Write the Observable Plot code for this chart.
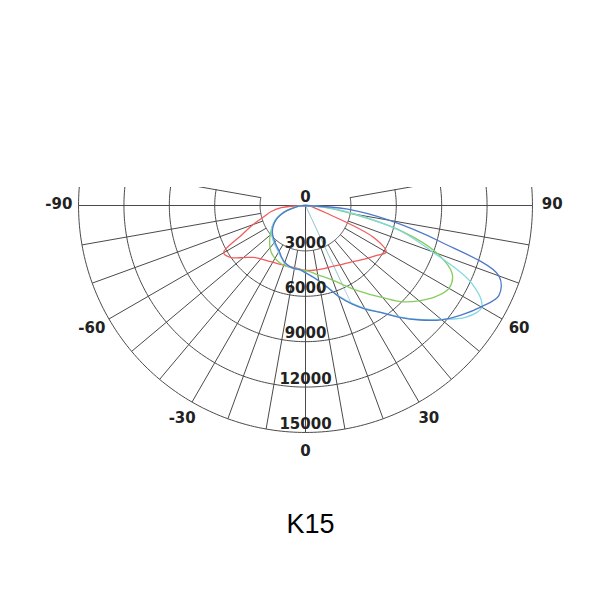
<!DOCTYPE html>
<html>
<head>
<meta charset="utf-8">
<script src="https://cdn.jsdelivr.net/npm/d3@7"></script>
<script src="https://cdn.jsdelivr.net/npm/@observablehq/plot@0.6"></script>
<style>
  body { margin: 0; background: #fff; }
</style>
</head>
<body>
<div id="chart"></div>
<script>
// gamma angles (deg), left side negative
const angles = [-90, -85, -80, -75, -70, -65, -60, -55, -50, -45, -40, -35, -30, -25, -20, -15, -10, -5, 0,
  5, 10, 15, 20, 25, 30, 35, 40, 45, 50, 55, 60, 65, 70, 75, 80, 85, 90];

// intensity per curve (cd)
const redValues = [0, 1600, 2300, 2850, 3700, 4700, 6250, 6000, 5350, 4850, 4600, 4450, 4330, 4250, 4200, 4180, 4170, 4220, 4280,
  4310, 4320, 4340, 4360, 4420, 4530, 4660, 4850, 5100, 5400, 5750, 6150, 4900, 1500, 650, 380, 180, 0];
const greenValues = [0, 400, 800, 1300, 1700, 2100, 2450, 2750, 3050, 3350, 3650, 3880, 4030, 4130, 4200, 4220, 4210, 4230, 4300,
  4420, 4650, 4900, 5250, 5750, 6400, 7100, 7950, 9000, 9800, 10500, 10950, 10700, 9280, 6650, 3100, 1100, 0];
const cyanValues = [0, 400, 780, 1280, 1780, 2180, 2480, 2730, 2930, 3080, 3230, 3380, 3550, 3800, 4050, 4180, 4260, 4270, 4430,
  4680, 5080, 5580, 6350, 7100, 7850, 8600, 9600, 10650, 11700, 12900, 13450, 12100, 8900, 6500, 3400, 1300, 0];
const blueValues = [0, 350, 700, 1200, 1700, 2100, 2400, 2650, 2850, 3000, 3150, 3300, 3480, 3750, 4000, 4150, 4240, 4250, 4450,
  4700, 5050, 5600, 6400, 7150, 7900, 8630, 9650, 10700, 11750, 12600, 13400, 14100, 13600, 9200, 5600, 2800, 0];

const seriesNames = ["C0", "C1", "C2", "C3"];
const seriesColors = ["#f25c5c", "#86cc5e", "#7fd8e2", "#5079c9"];
const seriesValues = [redValues, greenValues, cyanValues, blueValues];

// faint spokes from the centre to these curves
const spokeSeries = ["C1", "C2", "C3"];
const spokeAngle = 25;

// grid
const rings = [3000, 6000, 9000, 12000, 15000];
const ringLabels = [0, 3000, 6000, 9000, 12000, 15000];
const gridAngles = [-100, -90, -80, -70, -60, -50, -40, -30, -20, -10, 0, 10, 20, 30, 40, 50, 60, 70, 80, 90, 100];
const angleLabels = [-90, -60, -30, 0, 30, 60, 90];
const labelRadius = 16300;

const rad = a => a * Math.PI / 180;
const px = (a, v) => v * Math.sin(rad(a));
const py = (a, v) => -v * Math.cos(rad(a));

const curves = seriesNames.flatMap((name, k) =>
  angles.map((a, i) => ({name, a, v: seriesValues[k][i]})));

const spokeRows = spokeSeries.map(name => {
  const k = seriesNames.indexOf(name);
  return {name, a: spokeAngle, v: seriesValues[k][angles.indexOf(spokeAngle)]};
});

const ringPts = rings.flatMap(r => d3.range(-100, 100.5, 1).map(a => ({r, a})));

const chart = Plot.plot({
  width: 600,
  height: 600,
  marginLeft: 73.5,
  marginRight: 63.5,
  marginTop: 187,
  marginBottom: 163.5,
  x: {domain: [-15300, 15300], axis: null},
  y: {domain: [-15300, 1190], axis: null},
  color: {domain: seriesNames, range: seriesColors},
  style: {background: "#fff"},
  marks: [
    Plot.line(ringPts, {
      x: d => px(d.a, d.r), y: d => py(d.a, d.r), z: "r",
      stroke: "#4a4a4a", strokeWidth: 1, clip: true
    }),
    Plot.link(gridAngles, {
      x1: a => px(a, Math.abs(a) % 90 === 0 ? 0 : rings[0]),
      y1: a => py(a, Math.abs(a) % 90 === 0 ? 0 : rings[0]),
      x2: a => px(a, rings[rings.length - 1]),
      y2: a => py(a, rings[rings.length - 1]),
      stroke: "#4a4a4a", strokeWidth: 1, clip: true
    }),
    Plot.link(spokeRows, {
      x1: 0, y1: 0,
      x2: d => px(d.a, d.v), y2: d => py(d.a, d.v),
      stroke: "name", strokeOpacity: 0.3, strokeWidth: 1
    }),
    Plot.line(curves, {
      x: d => px(d.a, d.v), y: d => py(d.a, d.v), z: "name",
      stroke: "name", strokeWidth: 1.3, curve: "catmull-rom"
    }),
    Plot.text(ringLabels, {
      x: 0, y: v => -v, text: v => String(v), dy: -8,
      fontSize: 15, fontWeight: "bold", fontFamily: "DejaVu Sans", fill: "#222"
    }),
    Plot.text(angleLabels, {
      x: a => px(a, labelRadius), y: a => py(a, labelRadius), text: a => String(a), dy: -1,
      fontSize: 15, fontWeight: "bold", fontFamily: "DejaVu Sans", fill: "#222"
    }),
    Plot.text(["K15"], {
      frameAnchor: "bottom", lineAnchor: "bottom", dx: 5, dy: 95.5,
      fontSize: 27, fontFamily: "Liberation Sans", fill: "#000"
    })
  ]
});

document.getElementById("chart").append(chart);
</script>
</body>
</html>
